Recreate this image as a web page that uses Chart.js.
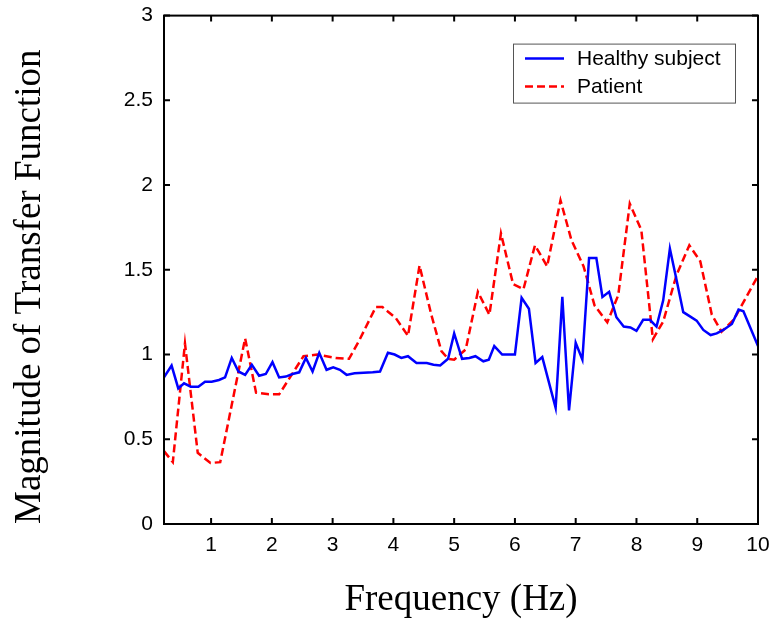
<!DOCTYPE html>
<html>
<head>
<meta charset="utf-8">
<script src="https://cdn.jsdelivr.net/npm/chart.js@4.4.1/dist/chart.umd.min.js"></script>
<style>
    html, body { margin: 0; padding: 0; background: #fff; }
</style>
</head>
<body>
<canvas id="tfChart" width="774" height="625"></canvas>
<script>
// values
var healthyFreq = [0.225, 0.35, 0.46, 0.555, 0.665, 0.79, 0.90, 1.01, 1.13, 1.23, 1.34, 1.45, 1.56, 1.67, 1.79, 1.90,
    2.01, 2.12, 2.23, 2.34, 2.45, 2.56, 2.67, 2.78, 2.90, 3.01, 3.12, 3.23, 3.36, 3.66, 3.78, 3.91, 4.02, 4.13, 4.24,
    4.38, 4.55, 4.66, 4.77, 4.90, 5.00, 5.13, 5.25, 5.35, 5.48, 5.57, 5.66, 5.79, 6.00, 6.11, 6.23, 6.34, 6.45, 6.67,
    6.78, 6.89, 7.00, 7.11, 7.22, 7.34, 7.44, 7.55, 7.67, 7.79, 7.90, 8.00, 8.11, 8.22, 8.33, 8.44, 8.55, 8.66, 8.77,
    8.88, 8.99, 9.10, 9.22, 9.32, 9.43, 9.57, 9.68, 9.76, 10.0];
var healthyMag = [0.865, 0.935, 0.80, 0.83, 0.81, 0.81, 0.84, 0.84, 0.85, 0.865, 0.98, 0.90, 0.88, 0.94, 0.875, 0.885,
    0.955, 0.865, 0.87, 0.885, 0.895, 0.98, 0.90, 1.01, 0.91, 0.925, 0.91, 0.88, 0.89, 0.895, 0.90, 1.01, 1.00, 0.98, 0.99,
    0.95, 0.95, 0.94, 0.935, 0.975, 1.125, 0.975, 0.98, 0.99, 0.96, 0.97, 1.05, 1.00, 1.00, 1.335, 1.27, 0.95, 0.985, 0.685,
    1.34, 0.67, 1.07, 0.97, 1.57, 1.57, 1.34, 1.37, 1.22, 1.165, 1.16, 1.14, 1.205, 1.205, 1.165, 1.32, 1.625, 1.44, 1.25,
    1.225, 1.20, 1.145, 1.115, 1.125, 1.145, 1.18, 1.265, 1.255, 1.05];

var patientFreq = [0.225, 0.37, 0.57, 0.78, 0.99, 1.15, 1.56, 1.74, 1.95, 2.12, 2.52, 2.75, 3.05, 3.27, 3.44, 3.71,
    3.82, 4.04, 4.24, 4.43, 4.62, 4.79, 4.90, 5.00, 5.19, 5.39, 5.58, 5.77, 5.97, 6.14, 6.33, 6.53, 6.75, 6.93, 7.13,
    7.31, 7.52, 7.70, 7.89, 8.08, 8.27, 8.44, 8.66, 8.87, 9.05, 9.24, 9.40, 9.60, 10.0];
var patientMag = [0.43, 0.365, 1.065, 0.42, 0.36, 0.365, 1.095, 0.775, 0.765, 0.765, 0.99, 1.00, 0.98, 0.975, 1.085, 1.28,
    1.28, 1.215, 1.11, 1.525, 1.24, 1.02, 0.975, 0.97, 1.03, 1.37, 1.235, 1.715, 1.415, 1.385, 1.645, 1.52, 1.91, 1.675, 1.52,
    1.29, 1.19, 1.35, 1.89, 1.735, 1.09, 1.195, 1.47, 1.645, 1.55, 1.235, 1.135, 1.205, 1.465];

var xTickValues = [1, 2, 3, 4, 5, 6, 7, 8, 9, 10];
var yTickValues = [0, 0.5, 1, 1.5, 2, 2.5, 3];

var seriesNames = ['Healthy subject', 'Patient'];

const toPoints = (xs, ys) => xs.map((v, i) => ({x: v, y: ys[i]}));

const tickFont = {family: "'Liberation Sans', Arial, sans-serif", size: 21};
const titleFont = {family: "'Liberation Serif', 'Times New Roman', serif", size: 37};

// box around the plot with matlab style inward ticks on every side
const boxTicks = {
    id: 'boxTicks',
    afterDatasetsDraw(chart) {
        const {ctx, chartArea: a, scales} = chart;
        ctx.save();
        ctx.strokeStyle = '#000';
        ctx.lineWidth = 2;
        ctx.strokeRect(a.left, a.top, a.right - a.left, a.bottom - a.top);
        ctx.beginPath();
        xTickValues.forEach(v => {
            let px = scales.x.getPixelForValue(v);
            ctx.moveTo(px, a.bottom); ctx.lineTo(px, a.bottom - 6);
            ctx.moveTo(px, a.top); ctx.lineTo(px, a.top + 6);
        });
        yTickValues.forEach(v => {
            let py = scales.y.getPixelForValue(v);
            ctx.moveTo(a.left, py); ctx.lineTo(a.left + 6, py);
            ctx.moveTo(a.right, py); ctx.lineTo(a.right - 6, py);
        });
        ctx.stroke();
        ctx.restore();
    }
};

// legend box in the upper right of the plot
const boxLegend = {
    id: 'boxLegend',
    afterDraw(chart) {
        const {ctx, chartArea: a} = chart;
        let bw = 222, bh = 59;
        let bx = a.right - 23 - bw, by = a.top + 28;
        ctx.save();
        ctx.fillStyle = '#fff';
        ctx.fillRect(bx, by, bw, bh);
        ctx.strokeStyle = '#555';
        ctx.lineWidth = 1;
        ctx.strokeRect(bx + 0.5, by + 0.5, bw, bh);
        ctx.font = '21px ' + tickFont.family;
        ctx.textBaseline = 'middle';
        chart.data.datasets.forEach((ds, i) => {
            let ly = by + 15 + i * 28;
            ctx.strokeStyle = ds.borderColor;
            ctx.lineWidth = 2.5;
            ctx.setLineDash(ds.borderDash || []);
            ctx.beginPath();
            ctx.moveTo(bx + 12, ly);
            ctx.lineTo(bx + 51, ly);
            ctx.stroke();
            ctx.setLineDash([]);
            ctx.fillStyle = '#000';
            ctx.fillText(ds.label, bx + 64, ly + 1);
        });
        ctx.restore();
    }
};

new Chart(document.getElementById('tfChart'), {
    type: 'line',
    data: {
        datasets: [{
            label: seriesNames[0],
            data: toPoints(healthyFreq, healthyMag),
            borderColor: '#0000ff',
            borderWidth: 2.5,
            pointRadius: 0,
            tension: 0,
            fill: false
        }, {
            label: seriesNames[1],
            data: toPoints(patientFreq, patientMag),
            borderColor: '#ff0000',
            borderWidth: 2.5,
            borderDash: [8, 4],
            pointRadius: 0,
            tension: 0,
            fill: false
        }]
    },
    options: {
        responsive: false,
        animation: false,
        layout: {padding: {left: 0, right: 16, top: 14, bottom: 0}},
        plugins: {
            legend: {display: false},
            tooltip: {enabled: false}
        },
        scales: {
            x: {
                type: 'linear',
                min: healthyFreq[0],
                max: 10,
                grid: {display: false},
                border: {display: false},
                afterBuildTicks: s => { s.ticks = xTickValues.map(v => ({value: v})); },
                afterFit: s => { s.height = 101; },
                ticks: {color: '#000', font: tickFont, padding: 1, maxRotation: 0, callback: v => String(v)},
                title: {display: true, text: 'Frequency (Hz)', color: '#000', font: titleFont, padding: {top: 0, bottom: 3}}
            },
            y: {
                type: 'linear',
                min: 0,
                max: 3,
                grid: {display: false},
                border: {display: false},
                afterBuildTicks: s => { s.ticks = yTickValues.map(v => ({value: v})); },
                afterFit: s => { s.width = 164; },
                ticks: {color: '#000', font: tickFont, padding: 3, callback: v => String(v)},
                title: {display: true, text: 'Magnitude of Transfer Function', align: 'start', color: '#000', font: titleFont, padding: {top: 8, bottom: 0}}
            }
        }
    },
    plugins: [boxTicks, boxLegend]
});
</script>
</body>
</html>
